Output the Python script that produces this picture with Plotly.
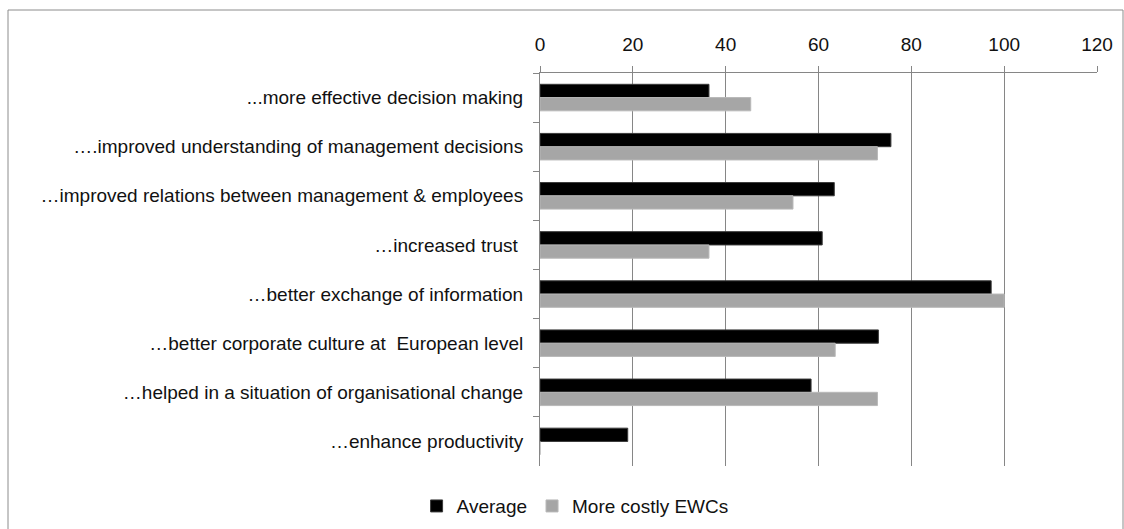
import plotly.graph_objects as go

# Survey outcomes (share of respondents, %)
categories = [
    "...more effective decision making",
    "….improved understanding of management decisions",
    "…improved relations between management & employees",
    "…increased trust ",
    "…better exchange of information",
    "…better corporate culture at  European level",
    "…helped in a situation of organisational change",
    "…enhance productivity",
]
average = [36.4, 75.6, 63.4, 60.8, 97.2, 72.9, 58.4, 18.9]
more_costly = [45.4, 72.7, 54.5, 36.4, 100.0, 63.6, 72.7, 0.0]
x_ticks = [0, 20, 40, 60, 80, 100, 120]

FONT = "Liberation Sans, Arial, sans-serif"
AXIS_GREY = "#868686"
FS = 19

fig = go.Figure()
fig.add_trace(go.Bar(
    y=categories, x=average, name="Average", orientation="h",
    marker=dict(color="#000000", line=dict(color="#3a3a3a", width=1)),
))
fig.add_trace(go.Bar(
    y=categories, x=more_costly, name="More costly EWCs", orientation="h",
    marker=dict(color="#a6a6a6", line=dict(color="#b8b8b8", width=1)),
))

fig.update_layout(
    width=1124, height=529,
    margin=dict(l=540, r=27, t=73, b=63, autoexpand=False),
    paper_bgcolor="white", plot_bgcolor="white",
    barmode="group", bargap=0.46, bargroupgap=0.0,
    font=dict(family=FONT, size=FS, color="#111111"),
    showlegend=True,
    legend=dict(
        orientation="h", x=0.063, y=-0.102, xanchor="center", yanchor="middle",
        font=dict(size=FS), itemwidth=30, traceorder="normal",
    ),
    xaxis=dict(
        side="top", range=[0, 120], tickvals=x_ticks,
        showgrid=True, gridcolor=AXIS_GREY, gridwidth=1,
        showline=True, linecolor=AXIS_GREY, linewidth=1,
        ticks="outside", ticklen=6, tickcolor=AXIS_GREY,
        zeroline=False, fixedrange=True, ticklabelstandoff=7,
        tickfont=dict(size=FS),
    ),
    yaxis=dict(
        autorange="reversed", type="category",
        showline=True, linecolor=AXIS_GREY, linewidth=1,
        ticks="outside", ticklen=6, tickcolor=AXIS_GREY, tickson="boundaries",
        showgrid=False, ticklabelstandoff=12,
        tickfont=dict(size=FS),
    ),
    shapes=[dict(
        type="rect", xref="paper", yref="paper",
        x0=(8 - 540) / 557, x1=(1123 - 540) / 557,
        y0=(466 - 540) / 393, y1=(466 - 10) / 393,
        line=dict(color="#8c8c8c", width=1), fillcolor="rgba(0,0,0,0)",
        layer="below",
    )],
)

fig.write_html("out.html")
